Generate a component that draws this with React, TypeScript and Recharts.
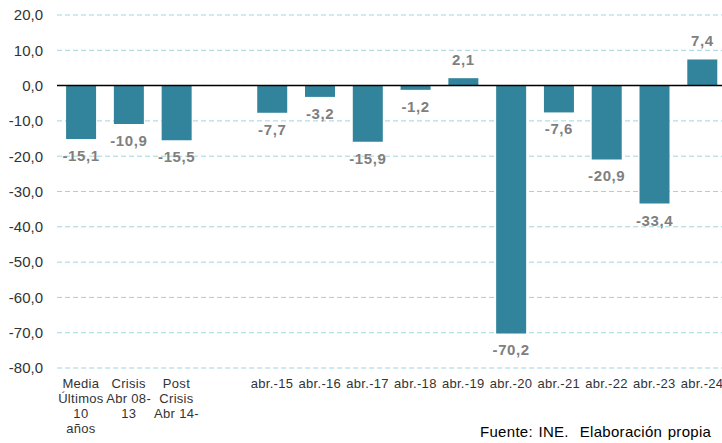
import React from 'react';
import { BarChart, Bar, XAxis, YAxis, CartesianGrid, ReferenceLine, LabelList } from 'recharts';

const categories: string[] = [
  'Media\nÚltimos\n10\naños',
  'Crisis\nAbr 08-\n13',
  'Post\nCrisis\nAbr 14-',
  '',
  'abr.-15', 'abr.-16', 'abr.-17', 'abr.-18', 'abr.-19',
  'abr.-20', 'abr.-21', 'abr.-22', 'abr.-23', 'abr.-24',
];
const values: (number | null)[] = [
  -15.1, -10.9, -15.5, null,
  -7.7, -3.2, -15.9, -1.2, 2.1, -70.2, -7.6, -20.9, -33.4, 7.4,
];
const yTicks: number[] = [20, 10, 0, -10, -20, -30, -40, -50, -60, -70, -80];
const sourceText = 'Fuente: INE.  Elaboración propia';

const data = categories.map((c, i) => ({ key: 'c' + i, name: c, value: values[i] }));

const fmt = (v: number) => v.toFixed(1).replace('.', ',');

const XTick = (props: any) => {
  const { x, y, payload } = props;
  const idx = payload.index ?? 0;
  const label = categories[idx] ?? '';
  const lines = label.split('\n');
  return (
    <text x={x} y={y} textAnchor="middle" fill="#333333" fontSize={13} letterSpacing={0.3} fontFamily="Liberation Sans, Arial, sans-serif">
      {lines.map((l, i) => (
        <tspan key={i} x={x} dy={i === 0 ? 10 : 15}>{l}</tspan>
      ))}
    </text>
  );
};

const ValueLabel = (props: any) => {
  const { x, y, width, height, value } = props;
  if (value === null || value === undefined) return null;
  const cx = x + width / 2;
  const y1 = y;
  const y2 = y + height;
  const end = value < 0 ? Math.max(y1, y2) : Math.min(y1, y2);
  const ty = value < 0 ? end + 17 : end - 18;
  return (
    <text x={cx} y={ty} dy={5} textAnchor="middle" fill="#7F7F7F" fontSize={15} fontWeight="bold"
      letterSpacing={0.6} fontFamily="Liberation Sans, Arial, sans-serif">
      {fmt(value)}
    </text>
  );
};

export default function App() {
  return (
    <div style={{ position: 'absolute', left: 0, top: 0, width: 722, height: 443, overflow: 'hidden', background: '#fff' }}>
      <BarChart width={726} height={443} data={data} margin={{ top: 15, right: 0, bottom: 0, left: 0 }} barCategoryGap="19%">
        <CartesianGrid vertical={false} stroke="#9FD5E1" strokeDasharray="5 3" />
        <XAxis dataKey="key" interval={0} height={75} tickSize={0} tickMargin={10} axisLine={false} tick={<XTick />} />
        <YAxis domain={[-80, 20]} ticks={yTicks} width={57} tickSize={0} tickMargin={14} axisLine={false}
          tickFormatter={fmt} interval={0}
          tick={{ fill: '#333333', fontSize: 15, fontFamily: 'Liberation Sans, Arial, sans-serif' }} />
        <ReferenceLine y={0} stroke="#000000" strokeWidth={1.5} />
        <Bar dataKey="value" fill="#31849B" isAnimationActive={false}>
          <LabelList dataKey="value" content={<ValueLabel />} />
        </Bar>
      </BarChart>
      <div style={{ position: 'absolute', left: 480, top: 423, fontSize: 15, letterSpacing: 0.3, wordSpacing: 1, fontFamily: 'Liberation Sans, Arial, sans-serif', color: '#000', whiteSpace: 'pre' }}>
        {sourceText}
      </div>
    </div>
  );
}
